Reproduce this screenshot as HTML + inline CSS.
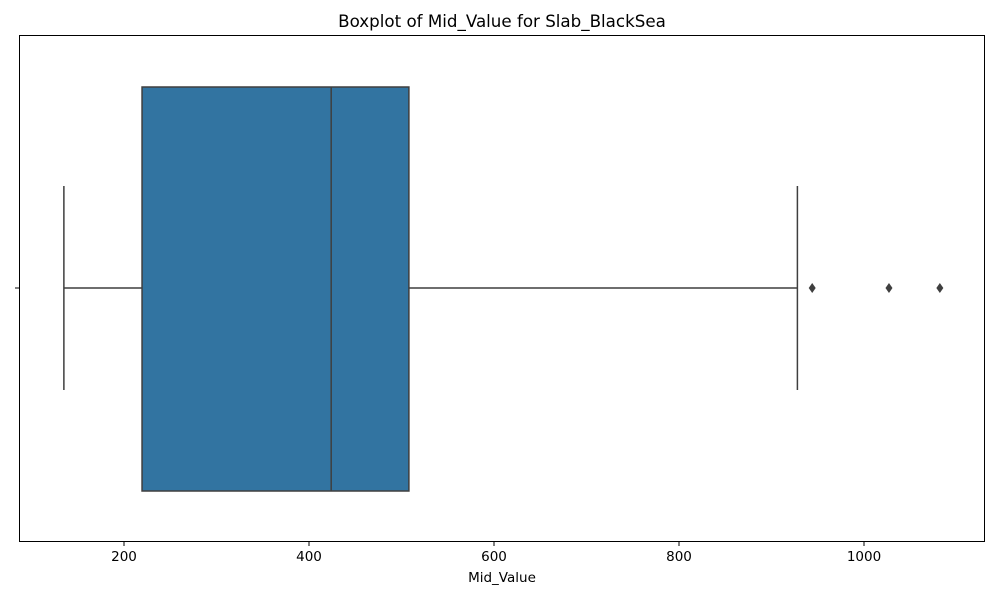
<!DOCTYPE html>
<html><head><meta charset="utf-8"><style>
body{margin:0;background:#fff;}
svg text{font-family:"DejaVu Sans","Liberation Sans",sans-serif;}
</style></head><body>
<svg id="chart" width="1000" height="600" xmlns="http://www.w3.org/2000/svg">
<rect width="1000" height="600" fill="#fff"/>
<text x="502" y="27" text-anchor="middle" font-size="16.7">Boxplot of Mid_Value for Slab_BlackSea</text>
<g id="marks"></g>
<rect x="19.5" y="35.5" width="965" height="506" fill="none" stroke="#000" stroke-width="1"/>
<g id="xticks"></g>
<line x1="15" y1="288" x2="19" y2="288" stroke="#000"/>
<text x="502" y="582" text-anchor="middle" font-size="13.5">Mid_Value</text>
</svg>
<script>
const tickValues=[200,400,600,800,1000];
const stats=[135,219.5,424,508,928];
const outliers=[944,1027,1082];
const NS="http://www.w3.org/2000/svg";
function xs(v){return 124+(v-200)*0.925;}
const cy=288;
function mk(tag,attrs,parent){const e=document.createElementNS(NS,tag);for(const k in attrs)e.setAttribute(k,attrs[k]);parent.appendChild(e);return e;}
const m=document.getElementById('marks');
const c="#3f3f3f";
let e;
e=mk('line',{x1:xs(stats[0]),y1:cy,x2:xs(stats[1]),y2:cy,stroke:c,'stroke-width':1.5},m);


e=mk('line',{x1:xs(stats[3]),y1:cy,x2:xs(stats[4]),y2:cy,stroke:c,'stroke-width':1.5},m);


e=mk('line',{x1:xs(stats[0]),y1:186,x2:xs(stats[0]),y2:390,stroke:c,'stroke-width':1.5},m);


e=mk('line',{x1:xs(stats[4]),y1:186,x2:xs(stats[4]),y2:390,stroke:c,'stroke-width':1.5},m);


e=mk('rect',{x:xs(stats[1]),y:87,width:xs(stats[3])-xs(stats[1]),height:404,fill:"#3274a1",stroke:c,'stroke-width':1.5},m);


e=mk('line',{x1:xs(stats[2]),y1:87,x2:xs(stats[2]),y2:491,stroke:c,'stroke-width':1.5},m);


outliers.forEach(v=>{const x=xs(v);
const d=mk('path',{d:`M${x},${cy-5} L${x+3.5},${cy} L${x},${cy+5} L${x-3.5},${cy} Z`,fill:c},m);

});
const t=document.getElementById('xticks');
tickValues.forEach(v=>{const x=xs(v);
const l=mk('line',{x1:x,y1:542,x2:x,y2:546,stroke:'#000'},t);


const tx=mk('text',{x:x,y:561,'text-anchor':'middle','font-size':13.5},t);tx.textContent=v;

});
</script>
</body></html>
